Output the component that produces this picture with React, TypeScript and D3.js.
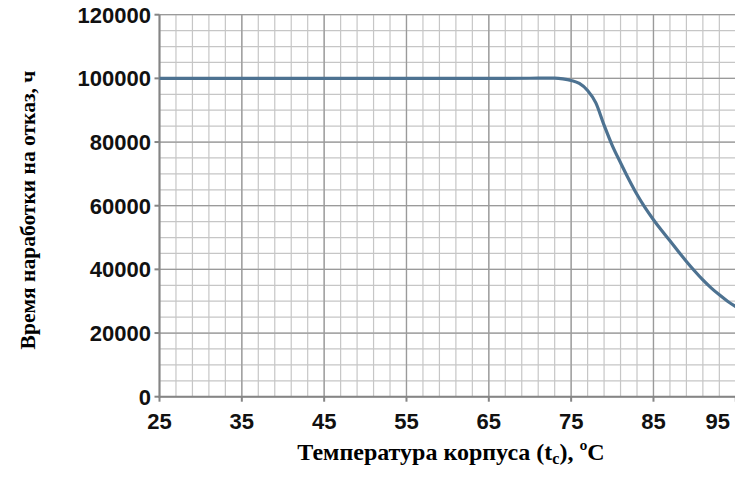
import React, { useEffect, useRef } from "react";
import * as d3 from "d3";

const temperatures = [25, 30, 40, 50, 60, 70, 72, 73, 74, 75, 76, 77, 78, 79, 80, 81, 82, 83, 84, 85, 86, 87, 88, 89, 90, 91, 92, 93, 94, 95];
const hours = [100000, 100000, 100000, 100000, 100000, 100030, 100100, 100080, 99850, 99350, 98400, 96200, 92300, 85300, 78900, 73500, 68300, 63500, 59300, 55600, 52200, 49000, 45700, 42500, 39500, 36700, 34200, 32000, 30000, 28300];
const xTicks = [25, 35, 45, 55, 65, 75, 85, 95];
const yTicks = [0, 20000, 40000, 60000, 80000, 100000, 120000];
const xTitle = "Температура корпуса (t";
const xTitleSub = "c";
const xTitleEnd = "), ºC";
const yTitle = "Время наработки на отказ, ч";

const W = 735;
const H = 488;

export default function App() {
  const ref = useRef<SVGSVGElement>(null);
  useEffect(() => {
    const svg = d3.select(ref.current);
    svg.selectAll("*").remove();
    const x = d3.scaleLinear().domain([25, 95]).range([159.5, 735.8]);
    const y = d3.scaleLinear().domain([0, 120000]).range([396.7, 14.7]);

    const g = svg.append("g");
    // minor grid
    const minorX = d3.range(25, 95.01, 2);
    const minorY = d3.range(0, 120001, 5000);
    g.selectAll("line.mx").data(minorX).enter().append("line")
      .attr("x1", (d) => x(d)).attr("x2", (d) => x(d))
      .attr("y1", y(0)).attr("y2", y(120000))
      .attr("stroke", "#c6c6c6").attr("stroke-width", 1.2);
    g.selectAll("line.my").data(minorY).enter().append("line")
      .attr("x1", x(25)).attr("x2", x(95))
      .attr("y1", (d) => y(d)).attr("y2", (d) => y(d))
      .attr("stroke", "#c6c6c6").attr("stroke-width", 1.2);
    // major grid
    g.selectAll("line.Mx").data(xTicks).enter().append("line")
      .attr("x1", (d) => x(d)).attr("x2", (d) => x(d))
      .attr("y1", y(0)).attr("y2", y(120000))
      .attr("stroke", "#9a9a9a").attr("stroke-width", 1.3);
    g.selectAll("line.My").data(yTicks).enter().append("line")
      .attr("x1", x(25)).attr("x2", x(95))
      .attr("y1", (d) => y(d)).attr("y2", (d) => y(d))
      .attr("stroke", "#9a9a9a").attr("stroke-width", 1.3);

    // axes
    g.append("line").attr("x1", x(25)).attr("x2", x(25)).attr("y1", y(0) + 1).attr("y2", y(120000))
      .attr("stroke", "#858585").attr("stroke-width", 2);
    g.append("line").attr("x1", x(25) - 1).attr("x2", x(95)).attr("y1", y(0)).attr("y2", y(0))
      .attr("stroke", "#858585").attr("stroke-width", 2);
    g.selectAll("line.tx").data(xTicks).enter().append("line")
      .attr("x1", (d) => x(d)).attr("x2", (d) => x(d))
      .attr("y1", y(0)).attr("y2", y(0) + 5)
      .attr("stroke", "#858585").attr("stroke-width", 2);
    g.selectAll("line.ty").data(yTicks).enter().append("line")
      .attr("x1", x(25) - 5).attr("x2", x(25))
      .attr("y1", (d) => y(d)).attr("y2", (d) => y(d))
      .attr("stroke", "#858585").attr("stroke-width", 2);

    // tick labels
    const fontTick = "'Liberation Sans', Arial, sans-serif";
    g.selectAll("text.yl").data(yTicks).enter().append("text")
      .attr("x", 151).attr("y", (d) => y(d) + 8)
      .attr("text-anchor", "end")
      .attr("font-family", fontTick).attr("font-weight", "bold").attr("font-size", 22)
      .attr("fill", "#111")
      .text((d) => String(d));
    g.selectAll("text.xl").data(xTicks).enter().append("text")
      .attr("x", (d, i) => (i === xTicks.length - 1 ? W - 5 : x(d)))
      .attr("y", 429)
      .attr("text-anchor", (d, i) => (i === xTicks.length - 1 ? "end" : "middle"))
      .attr("font-family", fontTick).attr("font-weight", "bold").attr("font-size", 22)
      .attr("fill", "#111")
      .text((d) => String(d));

    // curve
    const line = d3.line<number>()
      .x((d, i) => x(temperatures[i]))
      .y((d) => y(d))
      .curve(d3.curveMonotoneX);
    g.append("path").attr("d", line(hours) as string)
      .attr("fill", "none").attr("stroke", "#4d7291").attr("stroke-width", 3.2)
      .attr("stroke-linejoin", "round");

    // titles
    const fontTitle = "'Liberation Serif', 'Times New Roman', serif";
    const xt = g.append("text")
      .attr("x", 451).attr("y", 460)
      .attr("text-anchor", "middle")
      .attr("font-family", fontTitle).attr("font-weight", "bold").attr("font-size", 24)
      .attr("fill", "#000");
    xt.append("tspan").text(xTitle);
    xt.append("tspan").attr("font-size", 16).attr("dy", 4).text(xTitleSub);
    xt.append("tspan").attr("dy", -4).text(xTitleEnd);

    g.append("text")
      .attr("transform", `translate(35,210) rotate(-90)`)
      .attr("text-anchor", "middle")
      .attr("font-family", fontTitle).attr("font-weight", "bold").attr("font-size", 21.5)
      .attr("fill", "#000")
      .text(yTitle);
  }, []);

  return (
    <svg
      ref={ref}
      width={W}
      height={H}
      style={{ position: "absolute", left: 0, top: 0, background: "#fff", display: "block" }}
    />
  );
}
